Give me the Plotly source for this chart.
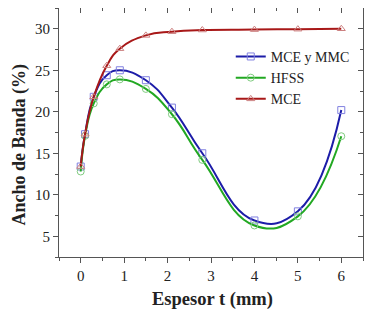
import plotly.graph_objects as go

t_mm = [0, 0.1, 0.3, 0.6, 0.9, 1.5, 2.1, 2.8, 4, 5, 6]
mce_mmc = [13.4, 17.3, 21.8, 24.4, 25.0, 23.8, 20.5, 15.0, 6.9, 8.0, 20.2]
hfss = [12.8, 17.1, 21.0, 23.3, 23.9, 22.75, 19.7, 14.2, 6.3, 7.4, 17.05]
mce = [13.4, 17.3, 21.8, 25.55, 27.6, 29.2, 29.65, 29.85, 29.9, 29.95, 30.0]

series = [
    ("MCE y MMC", mce_mmc, "#1c1ca8", "square-open", "#8080e0"),
    ("HFSS", hfss, "#22a822", "circle-open", "#80cc80"),
    ("MCE", mce, "#a81818", "triangle-up-open", "#cc8080"),
]

fig = go.Figure()
for name, ys, col, sym, mcol in series:
    fig.add_trace(go.Scatter(
        x=t_mm, y=ys, name=name, mode="lines+markers",
        line=dict(color=col, width=2, shape="spline", smoothing=1.3),
        marker=dict(symbol=sym, size=7, color=mcol, line=dict(width=1)),
    ))

font = "Liberation Serif"
axcol = "#555"
# page has an 8px body margin, so the figure is drawn 8px smaller
fig.update_layout(
    width=374, height=305,
    margin=dict(l=51, r=19, t=0, b=56),
    paper_bgcolor="white", plot_bgcolor="white",
    font=dict(family=font, size=15, color="#222"),
    showlegend=True,
    legend=dict(x=0.565, y=0.868, xanchor="left", yanchor="top",
                bgcolor="rgba(0,0,0,0)", font=dict(family=font, size=14),
                itemwidth=30, tracegroupgap=0),
    xaxis=dict(range=[-0.5, 6.5], tickvals=[0, 1, 2, 3, 4, 5, 6], automargin=False,
               showgrid=False, zeroline=False, showline=True, linecolor=axcol, linewidth=1,
               ticks="outside", ticklen=5, tickcolor=axcol,
               minor=dict(dtick=0.5, ticks="outside", ticklen=3, tickcolor=axcol),
               tickfont=dict(size=15)),
    yaxis=dict(range=[2.5, 32.5], tickvals=[5, 10, 15, 20, 25, 30], automargin=False,
               showgrid=False, zeroline=False, showline=True, linecolor=axcol, linewidth=1,
               ticks="outside", ticklen=5, tickcolor=axcol,
               minor=dict(dtick=2.5, ticks="outside", ticklen=3, tickcolor=axcol),
               tickfont=dict(size=15)),
    xaxis2=dict(range=[-0.5, 6.5], overlaying="x", side="top", tickvals=[0, 1, 2, 3, 4, 5, 6],
                automargin=False,
                showticklabels=False, showgrid=False, zeroline=False, showline=True,
                linecolor=axcol, linewidth=1, ticks="inside", ticklen=5, tickcolor=axcol,
                minor=dict(dtick=0.5, ticks="inside", ticklen=3, tickcolor=axcol)),
    yaxis2=dict(range=[2.5, 32.5], overlaying="y", side="right", tickvals=[5, 10, 15, 20, 25, 30],
                automargin=False,
                showticklabels=False, showgrid=False, zeroline=False, showline=True,
                linecolor=axcol, linewidth=1, ticks="inside", ticklen=5, tickcolor=axcol,
                minor=dict(dtick=2.5, ticks="inside", ticklen=3, tickcolor=axcol)),
    annotations=[
        dict(text="<b>Espesor t (mm)</b>", xref="paper", yref="paper", x=0.505, y=-0.169,
             xanchor="center", yanchor="middle", showarrow=False, font=dict(size=18.5)),
        dict(text="<b>Ancho de Banda (%)</b>", xref="paper", yref="paper", x=-0.13, y=0.454,
             xanchor="center", yanchor="middle", showarrow=False, textangle=-90,
             font=dict(size=18)),
    ],
)
fig.add_trace(go.Scatter(x=[None], y=[None], xaxis="x2", yaxis="y2", showlegend=False, hoverinfo="skip"))

fig.write_html("out.html")
